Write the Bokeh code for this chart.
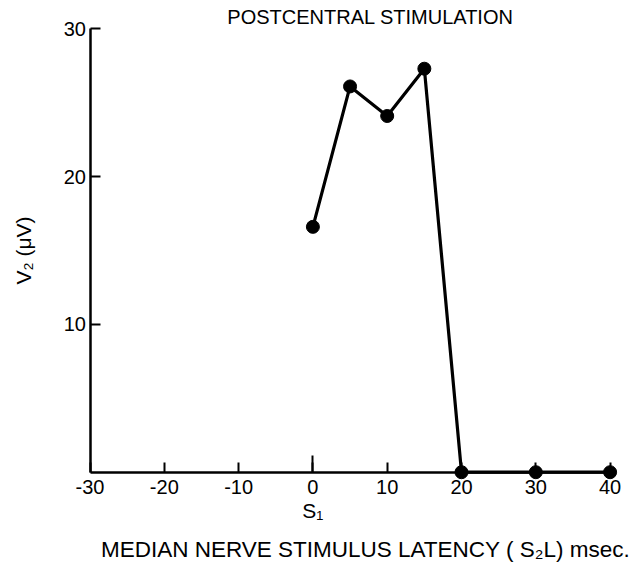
from bokeh.plotting import figure
from bokeh.models import Range1d, FixedTicker, Label, LinearAxis, ColumnDataSource
from bokeh.embed import file_html
from bokeh.resources import INLINE

latency = [0, 5, 10, 15, 20, 30, 40]
v2 = [16.6, 26.1, 24.1, 27.3, 0, 0, 0]
x_ticks = [-30, -20, -10, 0, 10, 20, 30, 40]
x_tick_labels = ["-30", "-20", "-10", "0", "10", "20", "30", "40"]
y_ticks = [10, 20, 30]

FONT = "Liberation Sans"

src = ColumnDataSource(dict(x=latency, y=v2))

p = figure(width=639, height=569, output_backend="svg", toolbar_location=None,
           x_range=Range1d(-42.046, 43.957), y_range=Range1d(-6.583, 31.915),
           min_border=0)
p.outline_line_color = None
p.grid.visible = False
p.background_fill_color = "white"

xa = p.xaxis[0]
xa.fixed_location = 0
xa.bounds = (-30, 40)
xa.ticker = FixedTicker(ticks=x_ticks)
xa.major_label_overrides = dict(zip(x_ticks, x_tick_labels))
xa.minor_tick_line_color = None
xa.major_tick_in = 10
xa.major_tick_out = 0
xa.major_tick_line_width = 2
xa.axis_line_width = 2.5
xa.major_label_text_font = FONT
xa.major_label_text_font_size = "20px"
xa.major_label_text_color = "black"
xa.major_label_standoff = 8

ya = p.yaxis[0]
ya.fixed_location = -30
ya.bounds = (0, 30)
ya.ticker = FixedTicker(ticks=y_ticks)
ya.minor_tick_line_color = None
ya.major_tick_in = 10
ya.major_tick_out = 0
ya.major_tick_line_width = 2
ya.axis_line_width = 2.5
ya.major_label_text_font = FONT
ya.major_label_text_font_size = "20px"
ya.major_label_text_color = "black"
ya.major_label_standoff = 4
ya.axis_label = "V\u2082 (\u03bcV)"
ya.axis_label_text_font = FONT
ya.axis_label_text_font_style = "normal"
ya.axis_label_text_font_size = "21px"
ya.axis_label_text_color = "black"
ya.axis_label_standoff = 26

# taller tick at the origin of the latency axis
ox = LinearAxis(fixed_location=0, bounds=(0, 0), ticker=FixedTicker(ticks=[0]),
                major_tick_in=17, major_tick_out=0, major_tick_line_width=2,
                minor_tick_line_color=None, axis_line_color=None,
                major_label_text_color=None)
p.add_layout(ox, "below")

p.line("x", "y", source=src, line_width=3.2, line_color="black")
p.scatter("x", "y", source=src, size=13, fill_color="black", line_color="black")

p.add_layout(Label(x=0, y=-2.62, text="S\u2081", text_font=FONT, text_font_size="21px",
                   text_align="center", text_baseline="middle", text_color="black"))
p.add_layout(Label(x=7.08, y=-5.2, text="MEDIAN NERVE STIMULUS LATENCY ( S\u2082L) msec.",
                   text_font=FONT, text_font_size="22.5px", text_align="center",
                   text_baseline="middle", text_color="black"))
p.add_layout(Label(x=7.75, y=30.8, text="POSTCENTRAL STIMULATION",
                   text_font=FONT, text_font_size="20px", text_align="center",
                   text_baseline="middle", text_color="black"))

open("out.html", "w").write(file_html(p, INLINE))
